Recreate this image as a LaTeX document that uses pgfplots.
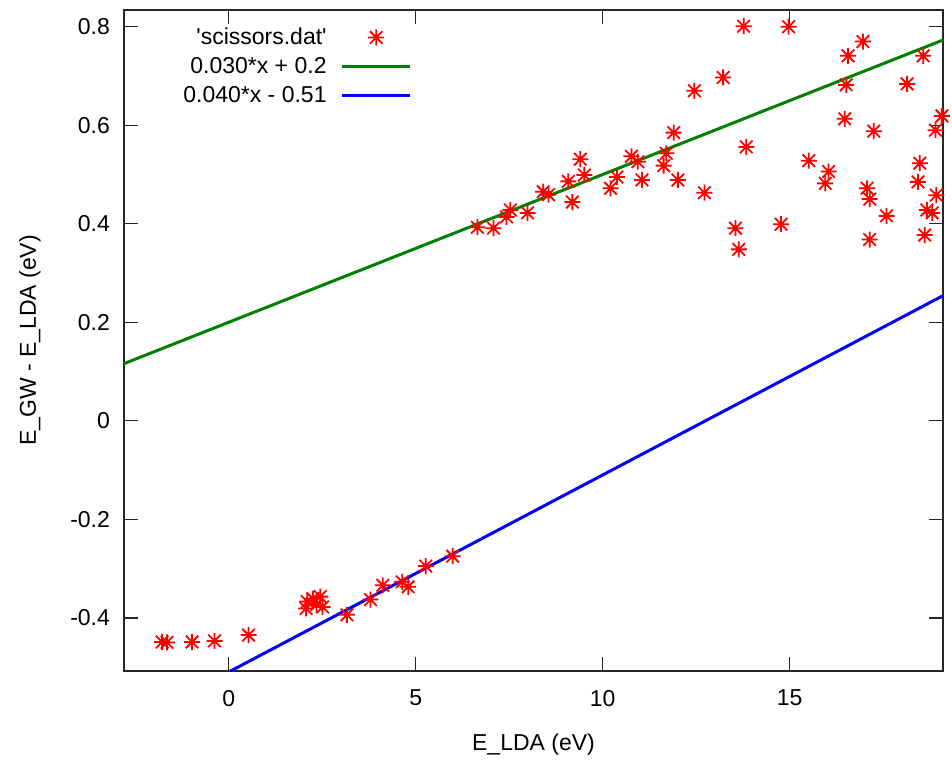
\documentclass[border=0pt]{standalone}
\usepackage{fontspec}
\setmainfont{Liberation Sans}
\usepackage{pgfplots}
\pgfplotsset{compat=1.18}
\definecolor{gpred}{RGB}{255,0,0}
\definecolor{gpgreen}{RGB}{0,128,0}
\definecolor{gpblue}{RGB}{0,0,255}

% gnuplot point type 3: a plus and a cross on top of each other
\pgfdeclareplotmark{gpstar}{%
  \pgfpathmoveto{\pgfqpoint{-\pgfplotmarksize}{0pt}}%
  \pgfpathlineto{\pgfqpoint{\pgfplotmarksize}{0pt}}%
  \pgfpathmoveto{\pgfqpoint{0pt}{-\pgfplotmarksize}}%
  \pgfpathlineto{\pgfqpoint{0pt}{\pgfplotmarksize}}%
  \pgfpathmoveto{\pgfqpoint{-0.78\pgfplotmarksize}{-0.78\pgfplotmarksize}}%
  \pgfpathlineto{\pgfqpoint{0.78\pgfplotmarksize}{0.78\pgfplotmarksize}}%
  \pgfpathmoveto{\pgfqpoint{-0.78\pgfplotmarksize}{0.78\pgfplotmarksize}}%
  \pgfpathlineto{\pgfqpoint{0.78\pgfplotmarksize}{-0.78\pgfplotmarksize}}%
  \pgfusepathqstroke}

\begin{document}
\begin{tikzpicture}[font=\fontsize{11.5}{13.8}\selectfont]
\begin{axis}[scale only axis, width=409.5pt, height=330.5pt,
    at={(0,0)}, anchor=south west,
    xmin=-2.8, xmax=19.1, ymin=-0.508, ymax=0.834,
    xtick={0,5,10,15}, ytick={-0.4,-0.2,0,0.2,0.4,0.6,0.8},
    minor tick num=0, tick align=inside, major tick length=7pt,
    tick style={black!85, line width=0.7pt},
    axis line style={black!85, line width=0.8pt},
    /pgf/number format/assume math mode=true,
    yticklabel style={/pgf/number format/fixed, /pgf/number format/precision=1, xshift=-3.5pt},
    xticklabel style={yshift=-6pt},
    xlabel={E\_LDA (eV)}, ylabel={E\_GW - E\_LDA (eV)},
    xlabel style={at={(axis description cs:0.5,-0.112)}, anchor=center},
    ylabel style={at={(axis description cs:-0.1148,0.5)}, anchor=center},
    legend style={at={(axis description cs:0.3593,0.986)}, anchor=north east,
      draw=none, fill=none, cells={anchor=east}, legend plot pos=right,
      row sep=1pt, column sep=5pt},
    legend image code/.code={\draw[mark repeat=2,mark phase=2]
      plot coordinates {(0cm,0cm)(0.6cm,0cm)(1.2cm,0cm)};},
  ]
  \addplot[only marks, mark=gpstar, mark size=4pt, gpred, line width=0.9pt] coordinates {
    (-1.78,-0.449)(-1.65,-0.450)(-0.98,-0.449)(-0.38,-0.447)(0.53,-0.435)
    (2.07,-0.381)(2.10,-0.367)(2.25,-0.361)(2.35,-0.373)(2.45,-0.357)(2.51,-0.378)
    (3.16,-0.394)(3.79,-0.363)(4.12,-0.334)(4.64,-0.327)(4.80,-0.337)(5.27,-0.295)(5.99,-0.275)
    (6.65,0.393)(7.08,0.391)(7.43,0.414)(7.53,0.428)(7.99,0.422)(8.41,0.465)(8.55,0.459)
    (9.08,0.486)(9.19,0.444)(9.40,0.531)(9.51,0.499)(10.21,0.472)(10.38,0.495)(10.77,0.537)
    (10.94,0.526)(11.05,0.489)(11.63,0.518)(11.70,0.543)(11.90,0.585)(12.01,0.489)
    (12.45,0.670)(12.72,0.463)(13.22,0.697)
    (13.55,0.391)(13.64,0.348)(13.77,0.801)(13.84,0.556)(14.77,0.399)(14.97,0.800)
    (15.51,0.528)(15.95,0.482)(16.04,0.506)(16.47,0.613)(16.51,0.682)(16.56,0.741)
    (16.96,0.770)(17.07,0.472)(17.14,0.450)(17.14,0.368)(17.25,0.588)(17.59,0.416)
    (18.14,0.684)(18.43,0.485)(18.48,0.523)(18.57,0.741)(18.61,0.377)(18.67,0.428)
    (18.81,0.422)(18.90,0.590)(18.92,0.458)(19.07,0.619)
  };
  \addlegendentry{\textquotesingle scissors.dat\textquotesingle}
  \addplot[gpgreen, line width=1.5pt] coordinates {(-2.8,0.116)(19.1,0.773)};
  \addlegendentry{0.030*x + 0.2}
  \addplot[gpblue, line width=1.5pt] coordinates {(0,-0.51)(19.1,0.254)};
  \addlegendentry{0.040*x - 0.51}
\end{axis}
\path (-62pt,-43pt) rectangle (414pt,335.5pt);
\end{tikzpicture}
\end{document}
